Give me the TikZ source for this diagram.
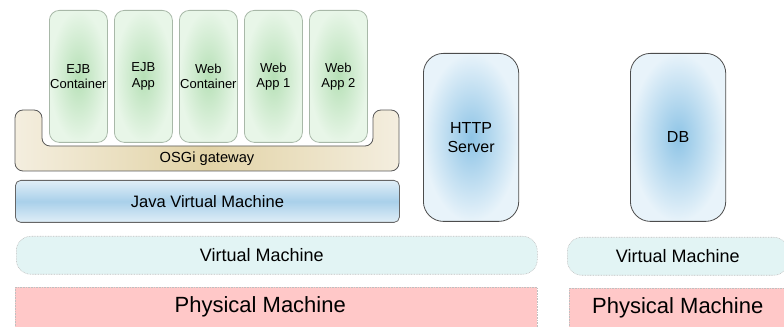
\documentclass[tikz,border=0pt]{standalone}
\usepackage{fontspec}
\setmainfont{Liberation Sans}
\definecolor{appin}{HTML}{B6E0B6}
\definecolor{appout}{HTML}{E8F6E8}
\definecolor{appline}{HTML}{A8B8A8}
\definecolor{gwmid}{HTML}{E2D3A6}
\definecolor{gwside}{HTML}{F4EEDF}
\definecolor{jvmmid}{HTML}{A9D0EA}
\definecolor{jvmside}{HTML}{E0EEF7}
\definecolor{srvin}{HTML}{8EC4E6}
\definecolor{srvout}{HTML}{E8F3FA}
\definecolor{vmfill}{HTML}{E2F4F4}
\definecolor{pmfill}{HTML}{FFC8C8}
\definecolor{dotline}{HTML}{C0C0C0}
\begin{document}
\begin{tikzpicture}[x=0.75pt,y=-0.75pt,
  app/.style={draw=appline, line width=0.6pt, rectangle, rounded corners=7.5pt, inner color=appin, outer color=appout, minimum width=43.5pt, minimum height=99pt, inner sep=0pt, align=center, font=\fontsize{9.75}{11.5}\selectfont, anchor=north west},
  server/.style={draw=black!70, line width=0.6pt, rectangle, rounded corners=15pt, inner color=srvin, outer color=srvout, minimum width=71.5pt, minimum height=126pt, align=center, font=\fontsize{12}{14}\selectfont, anchor=north west},
  vmbox/.style={draw=dotline, dash pattern=on 0.6pt off 0.6pt, fill=vmfill, rectangle, rounded corners=11pt, minimum height=28.5pt, anchor=north west},
  pmbox/.style={draw=dotline, dash pattern=on 0.6pt off 0.6pt, fill=pmfill, rectangle, minimum height=32pt, anchor=north west}]
 \clip (0,0) rectangle (784,327);

 % applications on the gateway
 \node[app] (ejbc) at (49,10) {EJB\\Container};
 \node[app] (ejba) at (114,10) {EJB\\App};
 \node[app] (webc) at (179,10) {Web\\Container};
 \node[app] (web1) at (244,10) {Web\\App 1};
 \node[app] (web2) at (309,10) {Web\\App 2};

 % OSGi gateway
 \draw[draw=black!65, line width=0.6pt, rounded corners=6pt, left color=gwside, right color=gwside, middle color=gwmid]
  (15,110) -- (42,110) -- (42,146) -- (373,146) -- (373,110) -- (399,110) -- (399,171) -- (15,171) -- cycle;
 \node[font=\fontsize{11}{13}\selectfont] (osgi) at (207,158.5) {OSGi gateway};

 % JVM
 \node[draw=black!60, line width=0.6pt, rectangle, rounded corners=4pt, top color=jvmside, bottom color=jvmside, middle color=jvmmid, minimum width=288pt, minimum height=31.5pt, font=\fontsize{12.4}{14}\selectfont, anchor=north west] (jvm) at (15,180) {Java Virtual Machine};

 % servers
 \node[server] (http) at (423,53) {HTTP\\Server};
 \node[server] (db) at (630,53) {DB};

 % virtual machines
 \node[vmbox, minimum width=390.75pt, label={[font=\fontsize{13.5}{15}\selectfont, xshift=-11.25pt]center:Virtual Machine}] (vm1) at (16,236) {};
 \node[vmbox, minimum width=165.75pt, label={[font=\fontsize{13.5}{15}\selectfont]center:Virtual Machine}] (vm2) at (567,237) {};

 % physical machines
 \node[pmbox, minimum width=391.5pt, label={[font=\fontsize{16.5}{18}\selectfont, xshift=-12pt, yshift=1pt]center:Physical Machine}] (pm1) at (15,287) {};
 \node[pmbox, minimum width=162.75pt, label={[font=\fontsize{16.5}{18}\selectfont, yshift=1pt]center:Physical Machine}] (pm2) at (569,288) {};
\end{tikzpicture}
\end{document}
